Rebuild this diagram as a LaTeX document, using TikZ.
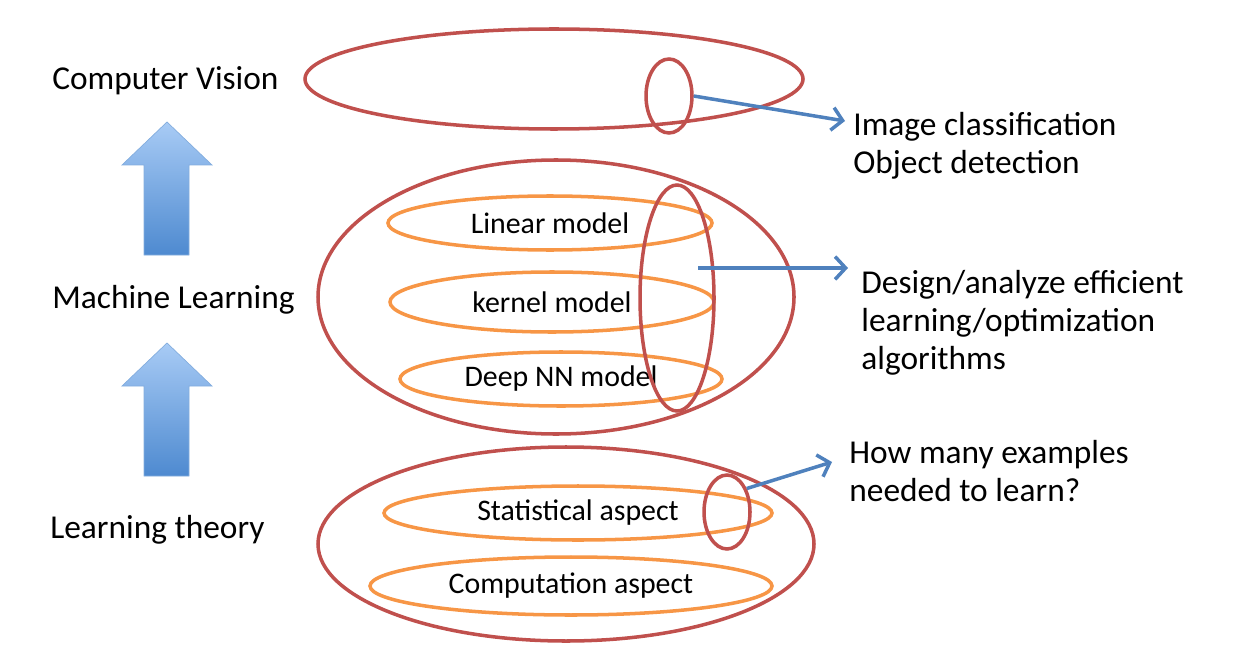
\documentclass[tikz,border=0pt]{standalone}
\usepackage{fontspec}
\setmainfont{Carlito}
\usetikzlibrary{shapes.geometric,arrows.meta}
\definecolor{ovalred}{RGB}{192,80,77}
\definecolor{ovalorange}{RGB}{247,150,70}
\definecolor{linkblue}{RGB}{79,129,189}
\definecolor{arrowtop}{RGB}{168,203,245}
\definecolor{arrowbottom}{RGB}{78,138,208}
\newcommand{\labfont}{\fontsize{19}{21.5}\selectfont}
\newcommand{\ovalfont}{\fontsize{17}{19}\selectfont}
\tikzset{oval size/.style 2 args={minimum width=#1*0.02cm, minimum height=#2*0.02cm}}

\begin{document}
\begin{tikzpicture}[x=0.02cm,y=-0.02cm]
                        \tikzstyle{redoval}=[ellipse, draw=ovalred, line width=2pt, inner sep=0pt]
                        \tikzstyle{orangeoval}=[ellipse, draw=ovalorange, line width=2pt, inner sep=0pt, font=\ovalfont]
                        \tikzstyle{sidetext}=[anchor=west, inner sep=0pt, align=left, font=\labfont]
                        \tikzstyle{link}=[draw=linkblue, line width=2pt, -{Straight Barb[length=6pt,width=13pt]}]
                        \tikzstyle{uparrow}=[top color=arrowtop, bottom color=arrowbottom, draw=arrowbottom!70!white, line width=0.4pt]
                        \useasboundingbox (0,0) rectangle (1246,662);
                        \node[redoval, oval size={498}{100}] (cv) at (554,79) {};
                        \node[redoval, oval size={46}{74}] (cvpart) at (669,96) {};
                        \node[orangeoval, oval size={324}{54}] (linear) at (550,223) {Linear model};
                        \node[orangeoval, oval size={324}{60}] (kernel) at (552,302) {kernel model};
                        \node[orangeoval, oval size={322}{54}] (deep) at (561,379) {Deep NN model};
                        \node[redoval, oval size={476}{274}] (ml) at (556,297) {};
                        \node[redoval, oval size={74}{226}] (mlpart) at (677,298) {};
                        \node[orangeoval, oval size={388}{54}] (stat) at (578,513) {Statistical aspect};
                        \node[orangeoval, oval size={402}{58}] (comp) at (571,586) {Computation aspect};
                        \node[redoval, oval size={496}{194}] (lt) at (566,544) {};
                        \node[redoval, oval size={46}{74}] (ltpart) at (727,512) {};
                        \node[sidetext] (cvtext) at (52,81) {Computer Vision};
                        \node[sidetext] (mltext) at (52,300) {Machine Learning};
                        \node[sidetext] (lttext) at (50,530) {Learning theory};
                        \node[sidetext] (tasks) at (853,146) {Image classification\\Object detection};
                        \node[sidetext] (algos) at (861,323) {Design/analyze efficient\\learning/optimization\\algorithms};
                        \node[sidetext] (samples) at (849,471) {How many examples\\needed to learn?};
                        \coordinate (cvend) at (845,121);
                        \coordinate (mlstart) at (698,268);
                        \coordinate (mlend) at (848,268);
                        \coordinate (ltend) at (832,462);
                        \draw[link] (cvpart.east) -- (cvend);
                        \draw[link] (mlstart) -- (mlend);
                        \draw[link] (ltpart.50) -- (ltend);
                        \foreach \tipy in {122,343}
                            \path[uparrow] (167,\tipy) -- (212,\tipy+43) -- (189,\tipy+43) -- (189,\tipy+133)
                                -- (144,\tipy+133) -- (144,\tipy+43) -- (122,\tipy+43) -- cycle;
                    \end{tikzpicture}
\end{document}
